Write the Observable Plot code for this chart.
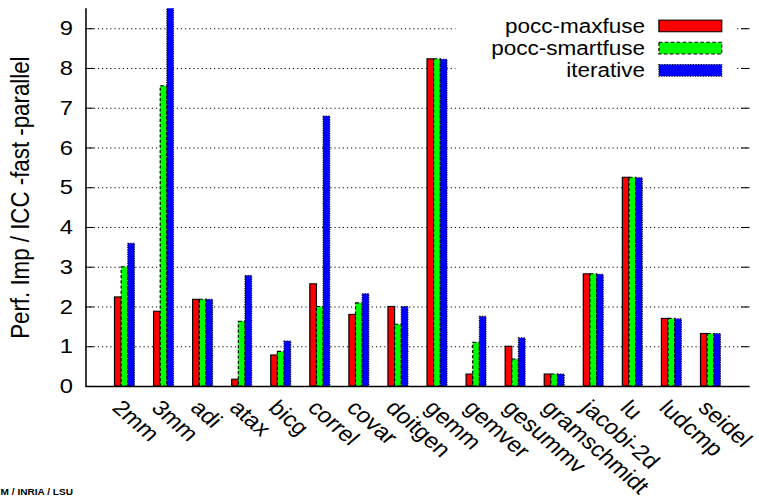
<!DOCTYPE html>
<html><head><meta charset="utf-8">
<script src="https://cdn.jsdelivr.net/npm/d3@7"></script>
<script src="https://cdn.jsdelivr.net/npm/@observablehq/plot@0.6"></script>
<style>
html,body{margin:0;padding:0;background:#fff;overflow:hidden;}
#chart{width:759px;height:498px;}
</style>
</head><body><div id="chart"></div>
<script>
const categories = ["2mm","3mm","adi","atax","bicg","correl","covar","doitgen","gemm","gemver","gesummv","gramschmidt","jacobi-2d","lu","ludcmp","seidel"];
const maxfuse   = [2.24, 1.88, 2.18, 0.17, 0.78, 2.57, 1.80, 2.00, 8.23, 0.30, 1.00, 0.30, 2.82, 5.25, 1.70, 1.32];
const smartfuse = [3.00, 7.55, 2.18, 1.63, 0.87, 2.00, 2.09, 1.55, 8.23, 1.10, 0.68, 0.30, 2.82, 5.25, 1.70, 1.32];
const iterative = [3.59, 10.0, 2.18, 2.78, 1.13, 6.79, 2.32, 2.00, 8.22, 1.75, 1.21, 0.30, 2.81, 5.24, 1.69, 1.32];
const seriesNames = ["pocc-maxfuse", "pocc-smartfuse", "iterative"];
const yTicks = [0,1,2,3,4,5,6,7,8,9];
const yLabel = "Perf. Imp / ICC -fast -parallel";
const footer = "M / INRIA / LSU";

const seriesValues = [maxfuse, smartfuse, iterative];
const seriesColors = ["#ff0000", "#00ff00", "#0000ff"];
const seriesDash = [null, "3,2", "1,1.2"];
const xDomain = [-1, categories.length];
const BW = 0.17;

const W = 640, H = 480, ML = 72, MR = 8, MT = 8, MB = 108;
const innerW = W - ML - MR;
const font = "'Liberation Sans', Arial, Helvetica, sans-serif";

const barMarks = seriesValues.map((vals, s) => {
  const rows = vals.map((v, i) => ({i, v}));
  return Plot.rect(rows, {
    x1: d => d.i - 1.5 * BW + s * BW,
    x2: d => d.i - 0.5 * BW + s * BW,
    y1: 0, y2: "v",
    fill: seriesColors[s], stroke: "#000", strokeWidth: 1,
    strokeDasharray: seriesDash[s] || undefined,
    clip: true
  });
});

const plot = Plot.plot({
  width: W, height: H,
  marginLeft: ML, marginRight: MR, marginTop: MT, marginBottom: MB,
  style: {fontFamily: font, fontSize: "19px", background: "#fff", overflow: "visible"},
  x: {domain: xDomain, axis: null},
  y: {domain: [0, 9.5], axis: null},
  marks: [
    Plot.gridY(yTicks.filter(t => t > 0), {stroke: "#000", strokeOpacity: 1, strokeWidth: 1, strokeDasharray: "1,2.5"}),
    Plot.tickY(yTicks, {y: d => d, stroke: "#000", insetRight: innerW - 7}),
    Plot.tickY(yTicks, {y: d => d, stroke: "#000", insetLeft: innerW - 7}),
    ...barMarks,
    Plot.ruleX([xDomain[0]], {stroke: "#000", strokeWidth: 1.3}),
    Plot.ruleY([0], {stroke: "#000", strokeWidth: 1.3}),
    Plot.text(yTicks, {y: d => d, text: d => String(d), frameAnchor: "left", dx: -11, textAnchor: "end", fontSize: 20, fill: "#000"}),
    Plot.text(categories, {x: (d, i) => i, text: d => d, frameAnchor: "bottom", rotate: 45, textAnchor: "start", lineAnchor: "top", dx: -1.5, dy: 11.5, fontSize: 20.5, fill: "#000"}),
    Plot.text([yLabel], {text: d => d, frameAnchor: "left", dx: -55, rotate: -90, textAnchor: "middle", lineAnchor: "middle", fontSize: 21.5, fill: "#000"})
  ]
});

// legend (inside the plot, top right) with opaque background
const svg = d3.select(plot);
const lg = svg.append("g").attr("font-family", font).attr("font-size", 19);
lg.append("rect").attr("x", 384).attr("y", 11).attr("width", 236).attr("height", 68).attr("fill", "#fff");
seriesNames.forEach((name, s) => {
  const cy = 25 + s * 21.4;
  lg.append("text").attr("x", 544).attr("y", cy).attr("dy", "0.35em").attr("text-anchor", "end").attr("fill", "#000").text(name);
  const r = lg.append("rect").attr("x", 555.6).attr("y", cy - 5.6).attr("width", 53).attr("height", 11.2)
    .attr("fill", seriesColors[s]).attr("stroke", "#000").attr("stroke-width", 1);
  if (seriesDash[s]) r.attr("stroke-dasharray", seriesDash[s]);
});
svg.append("text").attr("x", 0.5).attr("y", 477).attr("text-anchor", "start").attr("font-family", font)
  .attr("font-weight", "bold").attr("font-size", 8.5).attr("fill", "#000").text(footer);

// stretch to 759x498 as in the reference
plot.setAttribute("viewBox", `0 0 ${W} ${H}`);
plot.setAttribute("preserveAspectRatio", "none");
plot.setAttribute("width", 759);
plot.setAttribute("height", 498);
plot.style.width = "759px";
plot.style.height = "498px";
plot.style.maxWidth = "none";
document.getElementById("chart").appendChild(plot);
</script>
</body></html>
